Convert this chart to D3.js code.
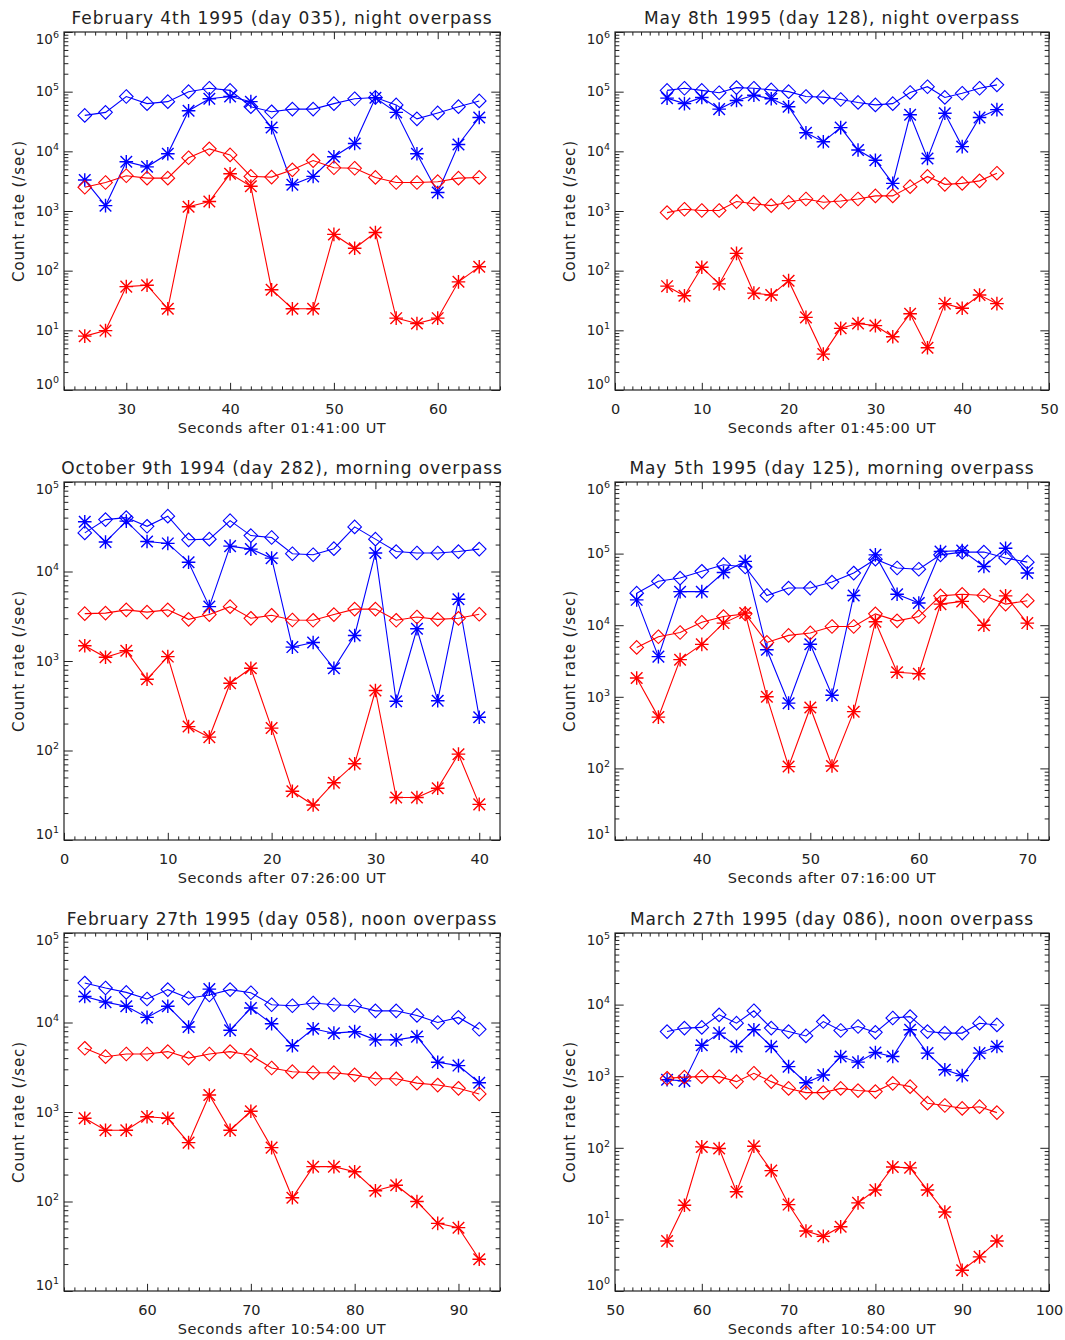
<!DOCTYPE html>
<html><head><meta charset="utf-8">
<script src="https://cdn.jsdelivr.net/npm/d3@7"></script>
<style>
body{margin:0;background:#fff}
text{font-family:"DejaVu Sans",sans-serif;fill:#222}
</style></head>
<body><svg id="chart" width="1065" height="1340"></svg>
<script>
// ---------- DATA ----------
const titles = [
  "February 4th 1995 (day 035), night overpass",
  "May 8th 1995 (day 128), night overpass",
  "October 9th 1994 (day 282), morning overpass",
  "May 5th 1995 (day 125), morning overpass",
  "February 27th 1995 (day 058), noon overpass",
  "March 27th 1995 (day 086), noon overpass"
];
const xLabels = [
  "Seconds after 01:41:00 UT",
  "Seconds after 01:45:00 UT",
  "Seconds after 07:26:00 UT",
  "Seconds after 07:16:00 UT",
  "Seconds after 10:54:00 UT",
  "Seconds after 10:54:00 UT"
];
const yLabel = "Count rate (/sec)";
const xDomains = [[24,66],[0,50],[0,42],[32,72],[52,94],[50,100]];
const yExpDomains = [[0,6],[0,6],[1,5],[1,6],[1,5],[0,5]];

// Panel 1: Feb 4 1995
const p1_x = [26,28,30,32,34,36,38,40,42,44,46,48,50,52,54,56,58,60,62,64];
const p1_blueDiamond = [40000,45000,83000,63000,68000,100000,114000,105000,56000,46000,51000,51000,63000,76000,80000,60000,35000,44000,56000,70000];
const p1_blueStar = [3300,1230,6700,5500,9100,48000,76000,83000,68000,25000,2750,3800,8100,13500,79000,45000,9100,2040,13000,37000];
const p1_redDiamond = [2500,3000,3900,3550,3550,7800,11000,8700,3800,3700,4900,7000,5300,5200,3650,3000,3000,3100,3550,3650];
const p1_redStar = [8.0,9.9,54,57,23,1180,1440,4200,2600,48,23,23,405,237,435,16,13,16,65,116];

// Panel 2: May 8 1995
const p2_x = [6,8,10,12,14,16,18,20,22,24,26,28,30,32,34,36,38,40,42,44];
const p2_blueDiamond = [105000,114000,105000,96000,117000,114000,107000,100000,83000,81000,74000,66000,60000,63000,97000,121000,80000,94000,114000,130000];
const p2_blueStar = [78000,63000,80000,51000,71000,87000,76000,56000,20500,14500,25000,10500,7100,2900,41000,7600,43500,12000,37000,50000];
const p2_redDiamond = [940,1070,1020,1020,1440,1320,1230,1400,1590,1400,1470,1590,1790,1790,2560,3800,2800,2900,3200,4300];
const p2_redStar = [55,38,114,60,195,42,39,68,16.5,4.0,10.8,13,12,7.8,19,5.1,28,23.4,39,28];

// Panel 3: Oct 9 1994
const p3_x = [2,4,6,8,10,12,14,16,18,20,22,24,26,28,30,32,34,36,38,40];
const p3_blueDiamond = [27000,38000,40000,32000,41500,22600,23000,37000,25200,24000,15800,15400,18000,31500,23000,16700,16100,16100,16700,17800];
const p3_blueStar = [36000,21400,36500,21600,20600,12700,4050,19200,17800,14100,1430,1610,830,1930,16100,355,2290,360,4900,235];
const p3_redDiamond = [3380,3430,3730,3520,3730,2920,3300,4050,3000,3240,2870,2850,3300,3800,3800,2850,3100,2920,3000,3330];
const p3_redStar = [1480,1100,1300,625,1120,185,141,565,830,178,35,24.6,43.7,71,468,29.8,29.8,37.9,91,25];

// Panel 4: May 5 1995
const p4_x = [34,36,38,40,42,44,46,48,50,52,54,56,58,60,62,64,66,68,70];
const p4_blueDiamond = [28000,41000,45500,56600,70000,65000,26000,33000,33000,40000,53500,83500,63000,60500,96000,105000,105000,87000,76000];
const p4_blueStar = [22600,3640,29400,29400,54500,78000,4530,815,5430,1050,26000,96000,27000,20400,107000,110000,66000,119000,53500];
const p4_redDiamond = [4900,6900,7900,11000,13200,14400,5750,7200,7800,9600,9600,14400,11500,13200,25700,27000,26000,19700,22000];
const p4_redStar = [1830,520,3300,5400,10700,14800,1000,106,710,108,620,11200,2200,2100,19700,21500,10000,25700,10700];

// Panel 5: Feb 27 1995
const p5_x = [54,56,58,60,62,64,66,68,70,72,74,76,78,80,82,84,86,88,90,92];
const p5_blueDiamond = [27600,24300,21700,18300,23300,18700,20300,23300,21500,15800,15400,16500,15800,15400,13500,13500,12000,10000,11400,8400];
const p5_blueStar = [19500,16900,15200,11400,15200,8900,23600,8200,14500,9700,5500,8500,7600,7900,6400,6400,6950,3600,3300,2120];
const p5_redDiamond = [5150,4150,4450,4450,4730,4000,4450,4730,4300,3100,2820,2750,2750,2600,2350,2350,2100,2000,1840,1590];
const p5_redStar = [850,625,625,885,850,455,1550,625,1020,400,110,245,245,215,132,152,100,57,51,22.6];

// Panel 6: Mar 27 1995
const p6_x = [56,58,60,62,64,66,68,70,72,74,76,78,80,82,84,86,88,90,92,94];
const p6_blueDiamond = [4200,4700,4800,7200,5500,8200,4700,4200,3650,5800,4350,4950,4100,6500,6800,4200,4000,4000,5500,5200];
const p6_blueStar = [890,860,2700,4000,2600,4450,2600,1360,810,1040,1880,1570,2140,1880,4450,2100,1230,1020,2100,2600];
const p6_redDiamond = [935,970,985,985,840,1100,840,675,590,590,675,630,610,795,715,420,390,355,375,310];
const p6_redStar = [5.0,15.8,103,98,24.3,105,48,16.1,6.9,5.8,7.9,17,25.7,54,52.5,25.7,12.7,1.95,3.0,5.0];

const panelX = [p1_x,p2_x,p3_x,p4_x,p5_x,p6_x];
const panelSeries = [
  [p1_blueDiamond,p1_blueStar,p1_redDiamond,p1_redStar],
  [p2_blueDiamond,p2_blueStar,p2_redDiamond,p2_redStar],
  [p3_blueDiamond,p3_blueStar,p3_redDiamond,p3_redStar],
  [p4_blueDiamond,p4_blueStar,p4_redDiamond,p4_redStar],
  [p5_blueDiamond,p5_blueStar,p5_redDiamond,p5_redStar],
  [p6_blueDiamond,p6_blueStar,p6_redDiamond,p6_redStar]
];
const seriesColors = ["#0000ff","#0000ff","#ff0000","#ff0000"];
const seriesSymbols = ["diamond","star","diamond","star"];

// ---------- LAYOUT ----------
const colLR = [[64,500],[615,1049]];
const rowTB = [[32,390],[482,840],[933,1291]];
const ink = "#222";

const svg = d3.select("#chart");

function diamondPath(r){ return `M0,${-r}L${r},0L0,${r}L${-r},0Z`; }
function starPath(r){
  const d = r*0.85;
  return `M0,${-r}L0,${r}M${-r},0L${r},0M${-d},${-d}L${d},${d}M${-d},${d}L${d},${-d}`;
}

for (let p=0;p<6;p++){
  const [L,R] = colLR[p%2];
  const [T,B] = rowTB[Math.floor(p/2)];
  const [xd0,xd1] = xDomains[p];
  const [e0,e1] = yExpDomains[p];
  const x = d3.scaleLinear().domain([xd0,xd1]).range([L,R]);
  const y = d3.scaleLog().domain([Math.pow(10,e0),Math.pow(10,e1)]).range([B,T]);
  const g = svg.append("g");

  // tick values
  const xMajor = d3.range(Math.ceil(xd0/10)*10, xd1+1e-9, 10);
  const xMinor = d3.range(Math.ceil(xd0), xd1+1e-9, 1).filter(v => v%10!==0);
  const yMajor = d3.range(e0, e1+1).map(e => Math.pow(10,e));
  const yMinor = [];
  for (let e=e0;e<e1;e++) for (let m=2;m<=9;m++) yMinor.push(m*Math.pow(10,e));

  const xTL = 0.02*(B-T), yTL = 0.02*(R-L);

  function styleAxis(sel){
    sel.select(".domain").remove();
    sel.selectAll(".tick line").attr("stroke",ink).attr("stroke-width",1);
  }
  // bottom
  const bMaj = g.append("g").attr("transform",`translate(0,${B})`)
    .call(d3.axisBottom(x).tickValues(xMajor).tickSize(-xTL).tickFormat(d3.format("d")));
  styleAxis(bMaj);
  bMaj.selectAll(".tick text").attr("y",24).attr("dy",0)
    .style("font-size","14.5px").attr("fill",ink);
  const bMin = g.append("g").attr("transform",`translate(0,${B})`)
    .call(d3.axisBottom(x).tickValues(xMinor).tickSize(-xTL/2).tickFormat(""));
  styleAxis(bMin);
  // top
  const tMaj = g.append("g").attr("transform",`translate(0,${T})`)
    .call(d3.axisTop(x).tickValues(xMajor).tickSize(-xTL).tickFormat(""));
  styleAxis(tMaj);
  const tMin = g.append("g").attr("transform",`translate(0,${T})`)
    .call(d3.axisTop(x).tickValues(xMinor).tickSize(-xTL/2).tickFormat(""));
  styleAxis(tMin);
  // left / right
  [[d3.axisLeft,L],[d3.axisRight,R]].forEach(([ax,pos])=>{
    const a1 = g.append("g").attr("transform",`translate(${pos},0)`)
      .call(ax(y).tickValues(yMajor).tickSize(-yTL).tickFormat(""));
    styleAxis(a1);
    const a2 = g.append("g").attr("transform",`translate(${pos},0)`)
      .call(ax(y).tickValues(yMinor).tickSize(-yTL/2).tickFormat(""));
    styleAxis(a2);
  });

  // y tick labels with superscripts
  yMajor.forEach((v,i)=>{
    const ty = Math.min(Math.max(y(v), T+7), B-5.5);
    const t = g.append("text").attr("x",L-5).attr("y",ty+4.8)
      .attr("text-anchor","end").style("font-size","13.5px");
    t.append("tspan").text("10");
    t.append("tspan").attr("dy",-6).style("font-size","9.5px").text(String(e0+i));
  });

  // frame
  g.append("rect").attr("x",L).attr("y",T).attr("width",R-L).attr("height",B-T)
    .attr("fill","none").attr("stroke",ink).attr("stroke-width",1.2);

  // title
  g.append("text").attr("x",(L+R)/2).attr("y",T-8.5).attr("text-anchor","middle")
    .style("font-size","17px").style("letter-spacing","0.9px").text(titles[p]);
  // x label
  g.append("text").attr("x",(L+R)/2).attr("y",B+43).attr("text-anchor","middle")
    .style("font-size","14.5px").style("letter-spacing","0.6px").text(xLabels[p]);
  // y label
  g.append("text").attr("transform",`translate(${L-40},${(T+B)/2}) rotate(-90)`)
    .attr("text-anchor","middle").style("font-size","15px").style("letter-spacing","0.9px")
    .text(yLabel);

  // data
  const xs = panelX[p];
  panelSeries[p].forEach((vals,si)=>{
    const col = seriesColors[si];
    const pts = xs.map((xv,i)=>[xv,vals[i]]);
    const line = d3.line().x(d=>x(d[0])).y(d=>y(d[1]));
    g.append("path").datum(pts).attr("d",line).attr("fill","none")
      .attr("stroke",col).attr("stroke-width",1.1);
    const sym = seriesSymbols[si];
    g.selectAll(null).data(pts).enter().append("path")
      .attr("transform",d=>`translate(${x(d[0])},${y(d[1])})`)
      .attr("d", sym==="diamond" ? diamondPath(6.8) : starPath(6.8))
      .attr("fill","none").attr("stroke",col)
      .attr("stroke-width", sym==="diamond" ? 1.1 : 1.4);
  });
}
</script></body></html>
